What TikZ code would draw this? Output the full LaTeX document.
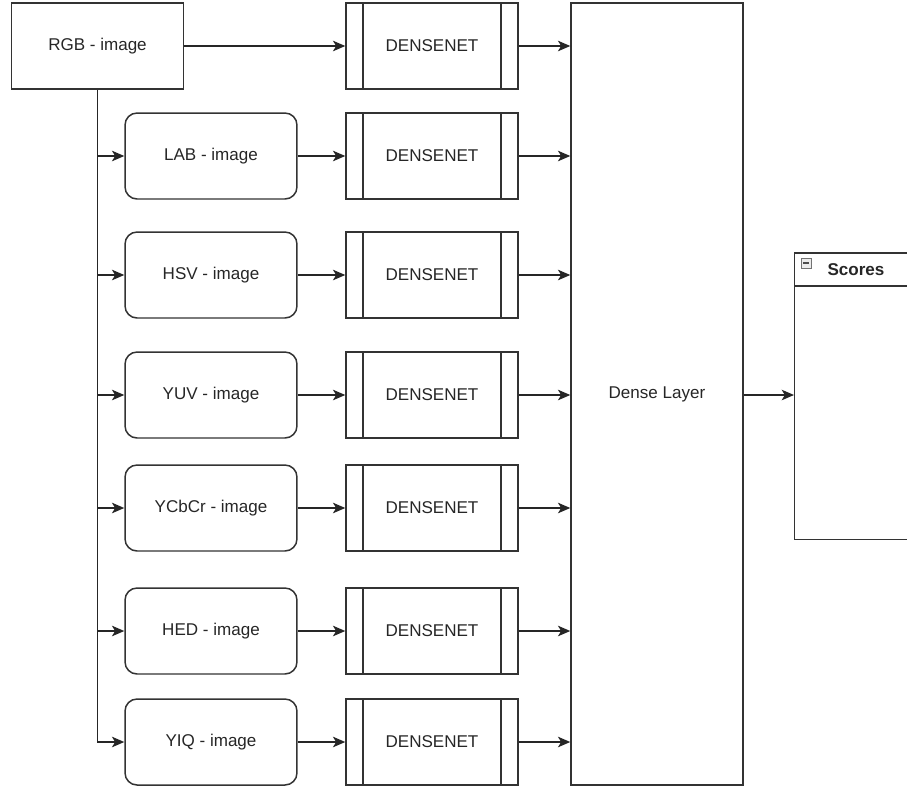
\documentclass[tikz,border=0pt]{standalone}
\usepackage{fontspec}
\setmainfont{Liberation Sans}
\usetikzlibrary{arrows.meta}
\begin{document}
\begin{tikzpicture}[x=0.02cm, y=-0.02cm, line width=0.85pt, font=\fontsize{9.7}{11}\selectfont,
	box/.style={draw=black!80, text=black!85, minimum width=3.44cm, minimum height=1.72cm, inner sep=0pt},
	imgbox/.style={box, rounded corners=0.24cm},
	netbox/.style={box, path picture={
		\draw[black!80] ([xshift=0.34cm]path picture bounding box.north west) -- ([xshift=0.34cm]path picture bounding box.south west);
		\draw[black!80] ([xshift=-0.34cm]path picture bounding box.north east) -- ([xshift=-0.34cm]path picture bounding box.south east);}},
	arr/.style={draw=black!85, -{Stealth[length=7pt, width=6pt, inset=1.8pt]}}]
	\useasboundingbox (0,0) rectangle (907,789);
	\node[box] (rgb) at (97.5,46) {RGB - image};
	\node[imgbox] (lab) at (211,156) {LAB - image};
	\node[imgbox] (hsv) at (211,275) {HSV - image};
	\node[imgbox] (yuv) at (211,395) {YUV - image};
	\node[imgbox] (ycbcr) at (211,508) {YCbCr - image};
	\node[imgbox] (hed) at (211,631) {HED - image};
	\node[imgbox] (yiq) at (211,742) {YIQ - image};
	\node[netbox] (net1) at (432,46) {DENSENET};
	\node[netbox] (net2) at (432,156) {DENSENET};
	\node[netbox] (net3) at (432,275) {DENSENET};
	\node[netbox] (net4) at (432,395) {DENSENET};
	\node[netbox] (net5) at (432,508) {DENSENET};
	\node[netbox] (net6) at (432,631) {DENSENET};
	\node[netbox] (net7) at (432,742) {DENSENET};
	\node[box, minimum height=15.64cm] (dense) at (657,394) {Dense Layer};
	\node[draw=black!80, minimum width=2.42cm, minimum height=5.74cm, anchor=north west] (scores) at (794,252) {};
	\draw[black!80] ([yshift=-0.68cm]scores.north west) -- ([yshift=-0.68cm]scores.north east);
	\node[draw=black!55, fill=black!8, line width=0.5pt, inner sep=0pt, minimum size=0.2cm] (scicon) at (806,263) {};
	\draw[black!70, line width=0.7pt] ([xshift=1.5pt]scicon.west) -- ([xshift=-1.5pt]scicon.east);
	\node[anchor=west, text=black!85, font=\fontsize{9.7}{11}\selectfont\bfseries] (sctitle) at (821,270) {Scores};
	\draw[arr] (rgb) -- (net1);
	\draw[arr] (rgb.south) |- (yiq.west);
	\draw[arr] (rgb.south |- lab) -- (lab);
	\draw[arr] (rgb.south |- hsv) -- (hsv);
	\draw[arr] (rgb.south |- yuv) -- (yuv);
	\draw[arr] (rgb.south |- ycbcr) -- (ycbcr);
	\draw[arr] (rgb.south |- hed) -- (hed);
	\draw[arr] (lab) -- (net2);
	\draw[arr] (hsv) -- (net3);
	\draw[arr] (yuv) -- (net4);
	\draw[arr] (ycbcr) -- (net5);
	\draw[arr] (hed) -- (net6);
	\draw[arr] (yiq) -- (net7);
	\draw[arr] (net1) -- (net1 -| dense.west);
	\draw[arr] (net2) -- (net2 -| dense.west);
	\draw[arr] (net3) -- (net3 -| dense.west);
	\draw[arr] (net4) -- (net4 -| dense.west);
	\draw[arr] (net5) -- (net5 -| dense.west);
	\draw[arr] (net6) -- (net6 -| dense.west);
	\draw[arr] (net7) -- (net7 -| dense.west);
	\draw[arr] (dense.east |- yuv) -- (scores.west |- yuv);
\end{tikzpicture}
\end{document}
